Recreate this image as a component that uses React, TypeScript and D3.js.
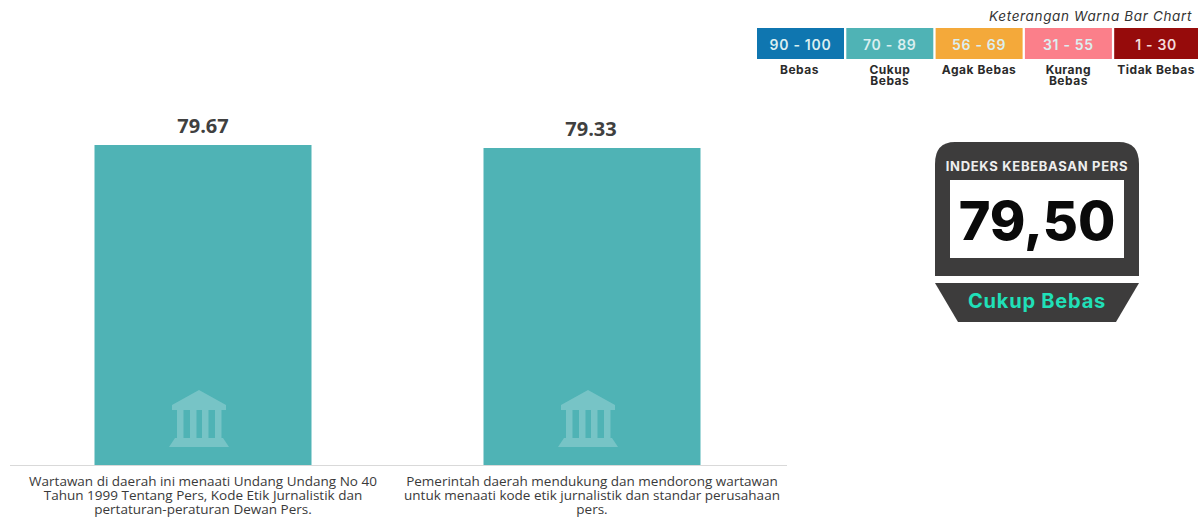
import React from "react";
import * as d3 from "d3";

const W = 1202;
const H = 517;

const categories = ["q1", "q2"];
const values = [79.67, 79.33];
const valueLabels = ["79.67", "79.33"];
const categoryLines = [
  [
    "Wartawan di daerah ini menaati Undang Undang No 40",
    "Tahun 1999 Tentang Pers, Kode Etik Jurnalistik dan",
    "pertaturan-peraturan Dewan Pers.",
  ],
  [
    "Pemerintah daerah mendukung dan mendorong wartawan",
    "untuk menaati kode etik jurnalistik dan standar perusahaan",
    "pers.",
  ],
];

const legendRanges = ["90 - 100", "70 - 89", "56 - 69", "31 - 55", "1 - 30"];
const legendColors = ["#0f76b0", "#4fb3b5", "#f4a93a", "#fb7f8a", "#960b0b"];
const legendLabels = [["Bebas"], ["Cukup", "Bebas"], ["Agak Bebas"], ["Kurang", "Bebas"], ["Tidak Bebas"]];
const legendTitle = "Keterangan Warna Bar Chart";

const indexTitle = "INDEKS KEBEBASAN PERS";
const indexValue = "79,50";
const indexCategory = "Cukup Bebas";

const SANS = "'Open Sans', sans-serif";
const HEAD = "Inter, 'Noto Sans', sans-serif";
const BAR = "#4fb3b5";
const DARK = "#3d3c3c";

function Building({ cx, bottom }: { cx: number; bottom: number }) {
  const t = bottom - 57;
  const cols = [-22, -9, 3, 16];
  return (
    <g fill="#77c4c6">
      <path d={`M${cx},${t} L${cx + 27},${t + 15} L${cx + 27},${t + 20} L${cx - 27},${t + 20} L${cx - 27},${t + 15} Z`} />
      {cols.map((dx) => (
        <rect key={dx} x={cx + dx} y={t + 20} width={6.5} height={29} />
      ))}
      <path d={`M${cx - 24},${t + 48} L${cx + 24},${t + 48} L${cx + 30},${t + 57} L${cx - 30},${t + 57} Z`} />
    </g>
  );
}

export default function App() {
  const x = d3.scalePoint<string>().domain(categories).range([203, 592]);
  const y = d3.scaleLinear().domain([43.4, 79.67]).range([465, 145]);
  const barW = 217;
  const lx = d3.scaleLinear().domain([0, 5]).range([757, 1203.5]);
  const boxW = 87;

  return (
    <svg
      width={W}
      height={H}
      viewBox={`0 0 ${W} ${H}`}
      style={{ position: "absolute", left: 0, top: 0, background: "#fff" }}
    >
      {categories.map((c, i) => {
        const center = x(c)!;
        return (
          <g key={c}>
            <rect x={center - barW / 2} y={y(values[i])} width={barW} height={465 - y(values[i])} fill={BAR} />
            <Building cx={center - 4} bottom={447} />
            <text
              x={center - i}
              y={y(values[i]) - 12}
              textAnchor="middle"
              fontFamily={SANS}
              fontWeight={700}
              fontSize={20}
              fill="#404040"
            >
              {valueLabels[i]}
            </text>
            {categoryLines[i].map((ln, j) => (
              <text
                key={j}
                x={center}
                y={485.5 + j * 14.3}
                textAnchor="middle"
                fontFamily={SANS}
                fontSize={13.5}
                fill="#3a3a3a"
              >
                {ln}
              </text>
            ))}
          </g>
        );
      })}
      <line x1={10} x2={787} y1={465.5} y2={465.5} stroke="#d9d9d9" />

      <text
        x={1192}
        y={21}
        textAnchor="end"
        fontFamily={HEAD}
        fontStyle="italic"
        fontSize={13.5}
        letterSpacing={0.65}
        fill="#333"
      >
        {legendTitle}
      </text>
      {legendRanges.map((r, i) => {
        const x0 = lx(i);
        const w = Math.min(boxW, 1198 - x0);
        return (
          <g key={r}>
            <rect x={x0} y={28} width={w} height={31} fill={legendColors[i]} />
            <text
              x={x0 + w / 2}
              y={50}
              textAnchor="middle"
              fontFamily={HEAD}
              fontWeight={600}
              fontSize={14}
              letterSpacing={0.7}
              fill={i === 4 ? "#f3dcdc" : "#dbeff0"}
            >
              {r}
            </text>
            {legendLabels[i].map((ln, j) => (
              <text
                key={j}
                x={x0 + w / 2 + (i === 0 ? -1 : 0)}
                y={73.5 + j * 11.5}
                textAnchor="middle"
                fontFamily={HEAD}
                fontWeight={700}
                fontSize={12}
                letterSpacing={0.5}
                fill="#2b2b2b"
              >
                {ln}
              </text>
            ))}
          </g>
        );
      })}

      <path
        d="M955,142 L1119,142 Q1139,142 1139,164 L1139,276 L935,276 L935,164 Q935,142 955,142 Z"
        fill={DARK}
      />
      <text
        x={1037}
        y={171}
        textAnchor="middle"
        fontFamily={HEAD}
        fontWeight={700}
        fontSize={13}
        letterSpacing={0.7}
        fill="#eeeeee"
      >
        {indexTitle}
      </text>
      <rect x={950} y={180} width={174} height={78} fill="#fff" />
      <text x={1037} y={240} textAnchor="middle" fontFamily={HEAD} fontWeight={800} fontSize={54} fill="#0a0a0a">
        {indexValue}
      </text>
      <path d="M935,283 L1139,283 L1116,322 L958,322 Z" fill={DARK} />
      <text
        x={1037}
        y={308}
        textAnchor="middle"
        fontFamily={HEAD}
        fontWeight={700}
        fontSize={20}
        letterSpacing={0.8}
        fill="#20e0b8"
      >
        {indexCategory}
      </text>
    </svg>
  );
}
